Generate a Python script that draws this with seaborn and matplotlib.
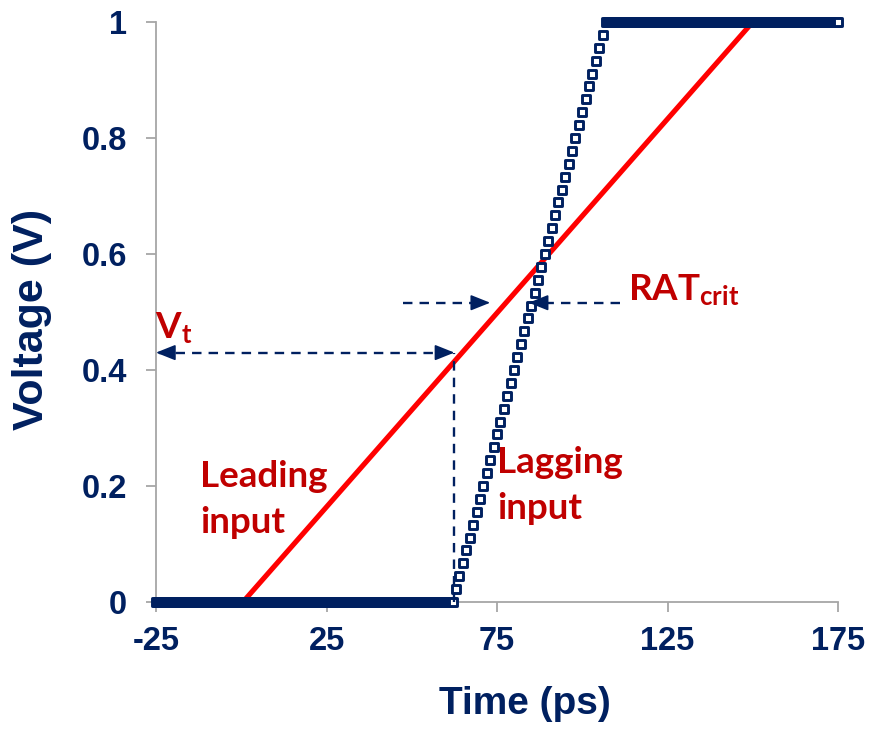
import numpy as np
import pandas as pd
import seaborn as sns
import matplotlib
matplotlib.use("Agg")
import matplotlib.pyplot as plt

# --- data -------------------------------------------------------------
t_min, t_max = -25.0, 175.0                # simulated time window (ps)

lead_start, lead_end = 0.5, 150.0          # leading input ramp (ps)
lag_start, lag_end = 62.0, 107.0           # lagging input ramp (ps)

vt_level = 0.43                            # threshold voltage marker (V)
vt_time = 62.5                             # where the threshold is crossed (ps)
rat_level = 0.516                          # RAT_crit arrows level (V)
rat_left = (47.5, 73.0)                    # left arrow: tail, tip (ps)
rat_right = (111.0, 84.3)                  # right arrow: tail, tip (ps)

x_ticks = [-25, 25, 75, 125, 175]
y_ticks = [0, 0.2, 0.4, 0.6, 0.8, 1.0]
y_tick_labels = ["0", "0.2", "0.4", "0.6", "0.8", "1"]

# simulator output steps: fine while settled, 1 ps during the transition
time_ps = np.concatenate([
    np.arange(t_min, lag_start, 0.5),
    np.arange(lag_start, lag_end, 1.0),
    np.arange(lag_end, t_max + 0.25, 0.5),
])


def ramp(t, t0, t1):
    """Piecewise-linear 0 -> 1 V transition between t0 and t1."""
    return np.clip((t - t0) / (t1 - t0), 0.0, 1.0)


df = pd.DataFrame({
    "time": time_ps,
    "leading": ramp(time_ps, lead_start, lead_end),
    "lagging": ramp(time_ps, lag_start, lag_end),
})

# --- style ------------------------------------------------------------
NAVY = "#002060"
RED = "#FF0000"
DARK_RED = "#C00000"
GRAY = "#A6A6A6"

sns.set_theme(style="white")
plt.rcParams["font.family"] = ["Liberation Sans", "DejaVu Sans"]
plt.rcParams["mathtext.fontset"] = "custom"
plt.rcParams["mathtext.rm"] = "Lato:bold"
plt.rcParams["mathtext.bf"] = "Lato:bold"
plt.rcParams["mathtext.it"] = "Lato:bold"

fig = plt.figure(figsize=(8.69, 7.30), dpi=100)
ax = fig.add_axes([156 / 869, 1 - 602 / 730, 682 / 869, 580 / 730])

# --- series -----------------------------------------------------------
sns.lineplot(data=df, x="time", y="leading", ax=ax, color=RED, lw=3.7,
             clip_on=False, zorder=3)
sns.scatterplot(data=df, x="time", y="lagging", ax=ax, marker="s", s=28,
                facecolor="white", edgecolor=NAVY, linewidth=2.1,
                clip_on=False, zorder=4)

# --- annotation arrows ------------------------------------------------
dash = dict(color=NAVY, lw=1.7, ls=(0, (4, 3)), clip_on=False, zorder=5)
head = dict(arrowstyle="-|>,head_length=1.0,head_width=0.4", color=NAVY,
            lw=1.2, shrinkA=0, shrinkB=0)


def arrow_head(x_tip, y_tip, x_from):
    ax.annotate("", xy=(x_tip, y_tip), xytext=(x_from, y_tip),
                arrowprops=head, annotation_clip=False, zorder=6)


# threshold: double-headed horizontal arrow and vertical drop line
ax.plot([-24.0, vt_time - 2], [vt_level, vt_level], **dash)
arrow_head(-25, vt_level, -22)
arrow_head(vt_time, vt_level, vt_time - 3)
ax.plot([vt_time, vt_time], [0, vt_level], **dash)

# RAT_crit arrows
ax.plot([rat_left[0], rat_left[1] - 2], [rat_level, rat_level], **dash)
arrow_head(rat_left[1], rat_level, rat_left[1] - 3)
ax.plot([rat_right[0], rat_right[1] + 2], [rat_level, rat_level], **dash)
arrow_head(rat_right[1], rat_level, rat_right[1] + 3)

# --- labels -----------------------------------------------------------
txt = dict(color=DARK_RED, fontsize=26.5, family="Lato", weight="bold",
           va="baseline", ha="left")
ax.text(-25.3, 0.455, r"$\mathrm{V_t}$", **txt)
ax.text(113.3, 0.521, r"$\mathrm{RAT_{crit}}$", **txt)
ax.text(-12.1, 0.198, "Leading", **txt)
ax.text(-12.1, 0.119, "input", **txt)
ax.text(75.1, 0.222, "Lagging", **txt)
ax.text(75.1, 0.143, "input", **txt)

# --- axes -------------------------------------------------------------
ax.set_xlim(t_min, t_max)
ax.set_ylim(0, 1)
ax.set_xticks(x_ticks)
ax.set_xticklabels([str(v) for v in x_ticks])
ax.set_yticks(y_ticks)
ax.set_yticklabels(y_tick_labels)

for side in ("top", "right"):
    ax.spines[side].set_visible(False)
for side in ("left", "bottom"):
    ax.spines[side].set_color(GRAY)
    ax.spines[side].set_linewidth(1.3)

ax.tick_params(axis="both", direction="out", length=7, width=1.3, color=GRAY,
               labelcolor=NAVY, labelsize=23.5)
ax.tick_params(axis="y", pad=14, left=True)
ax.tick_params(axis="x", pad=10, bottom=True)
for lab in ax.get_xticklabels() + ax.get_yticklabels():
    lab.set_fontweight("bold")

ax.set_xlabel("Time (ps)", fontsize=28, fontweight="bold", color=NAVY)
ax.set_ylabel("Voltage (V)", fontsize=31, fontweight="bold", color=NAVY)
ax.xaxis.set_label_coords(0.541, -0.145)
ax.yaxis.set_label_coords(-0.152, 0.488)

fig.savefig("out.png", dpi=100)
